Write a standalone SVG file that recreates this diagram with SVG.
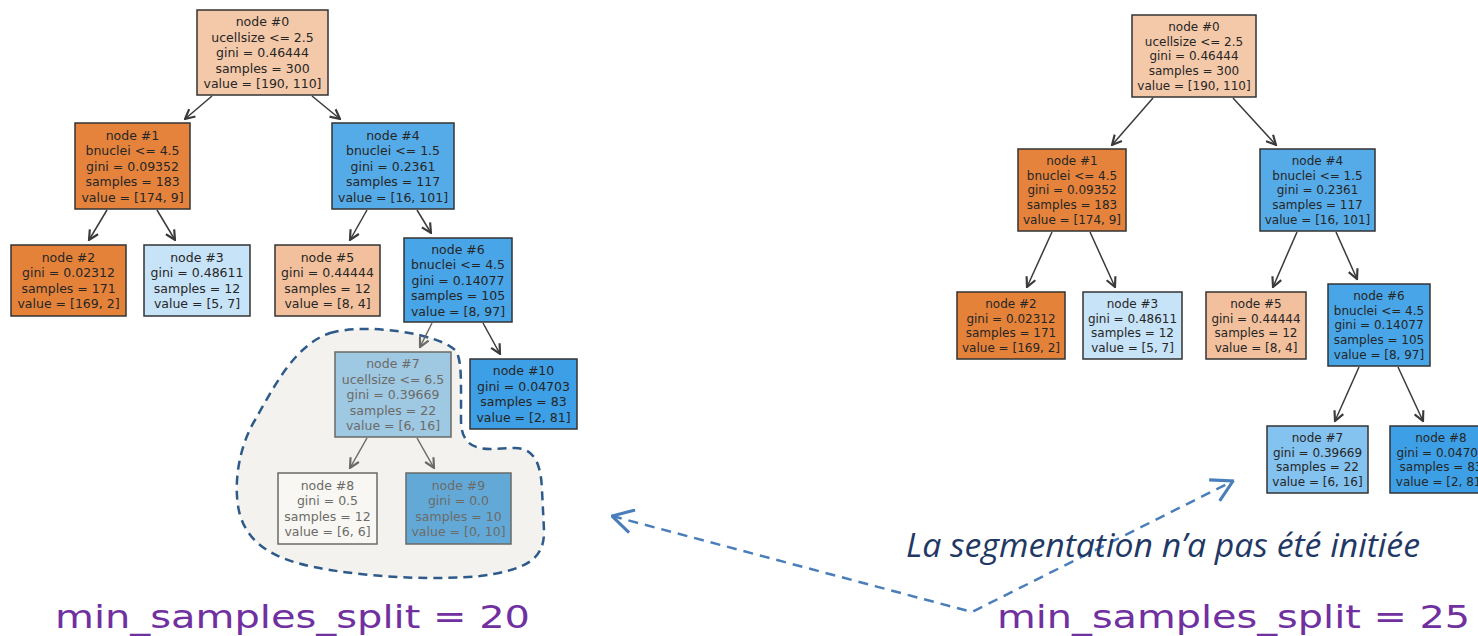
<svg xmlns="http://www.w3.org/2000/svg" width="1478" height="636" viewBox="0 0 1478 636">
<style>
.nb{stroke:#333;stroke-width:1.5}
.fb{stroke:#6a6a66;stroke-width:1.5}
.tl{font-family:"DejaVu Sans",sans-serif;font-size:12.5px;fill:#262626;text-anchor:middle}
.tr{font-family:"DejaVu Sans",sans-serif;font-size:12px;fill:#262626;text-anchor:middle}
.tf{font-family:"DejaVu Sans",sans-serif;font-size:12.5px;fill:#6b6b68;text-anchor:middle}
.e{stroke:#3a3a3a;stroke-width:1.5;fill:none;marker-end:url(#ah)}
.ef{stroke:#6a6a66;stroke-width:1.5;fill:none;marker-end:url(#ahf)}
.lab{font-family:"DejaVu Sans",sans-serif;font-size:32px;fill:#7030a0}
.note{font-family:"Open Sans",sans-serif;font-style:italic;font-size:33px;fill:#1f3864}
</style>
<defs>
<marker id="ah" markerUnits="userSpaceOnUse" markerWidth="12" markerHeight="12" refX="9" refY="5" orient="auto" viewBox="0 0 10 10">
<path d="M1,1 L9,5 L1,9" fill="none" stroke="#3a3a3a" stroke-width="1.8"/>
</marker>
<marker id="ahf" markerUnits="userSpaceOnUse" markerWidth="12" markerHeight="12" refX="9" refY="5" orient="auto" viewBox="0 0 10 10">
<path d="M1,1 L9,5 L1,9" fill="none" stroke="#6a6a66" stroke-width="1.8"/>
</marker>
<marker id="bh" markerUnits="userSpaceOnUse" markerWidth="26" markerHeight="26" refX="19" refY="10" orient="auto-start-reverse" viewBox="0 0 20 20">
<path d="M3,1 L19,10 L3,19" fill="none" stroke="#4a7ebb" stroke-width="2.4"/>
</marker>
</defs>
<rect width="1478" height="636" fill="#ffffff"/>

<g id="highlight">
<path d="M330,333 C370,322 440,335 455,350 C462,358 461,380 461,420 C461,440 470,449 490,449 L515,448 C535,448 541,465 542,490 L544,530 C545,560 525,570 480,576 C440,580 380,578 330,570 C280,562 250,548 240,515 C233,490 237,450 255,420 C275,385 295,345 330,333 Z" fill="#f3f2ee" stroke="#2e5a8a" stroke-width="2.5" stroke-dasharray="9,6"/>
</g>

<g id="connectors">
<line class="e" x1="212" y1="96" x2="185" y2="119"/>
<line class="e" x1="312" y1="96" x2="340" y2="119"/>
<line class="e" x1="107" y1="210" x2="89" y2="240"/>
<line class="e" x1="157" y1="210" x2="175" y2="240"/>
<line class="e" x1="367" y1="210" x2="350" y2="240"/>
<line class="e" x1="417" y1="210" x2="431" y2="233"/>
<line class="ef" x1="432" y1="323" x2="420" y2="347"/>
<line class="e" x1="483" y1="323" x2="500" y2="354"/>
<line class="ef" x1="367" y1="438" x2="350" y2="468"/>
<line class="ef" x1="417" y1="438" x2="434" y2="468"/>
<line class="e" x1="1153" y1="98" x2="1112" y2="145"/>
<line class="e" x1="1233" y1="98" x2="1276" y2="145"/>
<line class="e" x1="1052" y1="232" x2="1027" y2="287"/>
<line class="e" x1="1090" y1="232" x2="1115" y2="287"/>
<line class="e" x1="1297" y1="232" x2="1273" y2="287"/>
<line class="e" x1="1336" y1="232" x2="1357" y2="279"/>
<line class="e" x1="1359" y1="367" x2="1335" y2="421"/>
<line class="e" x1="1398" y1="367" x2="1423" y2="421"/>
<path d="M612,516 L972,612 L1233,481" fill="none" stroke="#4a7ebb" stroke-width="2.5" stroke-dasharray="10,7" marker-start="url(#bh)" marker-end="url(#bh)"/>
</g>

<!-- left tree -->
<g id="L-node0"><rect class="nb" x="197" y="10" width="131" height="85" fill="#f4c9a9"/>
<text class="tl"><tspan x="262.5" y="26">node #0</tspan><tspan x="262.5" y="41.5">ucellsize &lt;= 2.5</tspan><tspan x="262.5" y="57">gini = 0.46444</tspan><tspan x="262.5" y="72.5">samples = 300</tspan><tspan x="262.5" y="88">value = [190, 110]</tspan></text></g>
<g id="L-node1"><rect class="nb" x="75" y="123" width="115" height="86" fill="#e5833c"/>
<text class="tl"><tspan x="132.5" y="139.5">node #1</tspan><tspan x="132.5" y="155">bnuclei &lt;= 4.5</tspan><tspan x="132.5" y="170.5">gini = 0.09352</tspan><tspan x="132.5" y="186">samples = 183</tspan><tspan x="132.5" y="201.5">value = [174, 9]</tspan></text></g>
<g id="L-node4"><rect class="nb" x="332" y="123" width="122" height="86" fill="#55abe8"/>
<text class="tl"><tspan x="393" y="139.5">node #4</tspan><tspan x="393" y="155">bnuclei &lt;= 1.5</tspan><tspan x="393" y="170.5">gini = 0.2361</tspan><tspan x="393" y="186">samples = 117</tspan><tspan x="393" y="201.5">value = [16, 101]</tspan></text></g>
<g id="L-node2"><rect class="nb" x="11" y="245" width="115" height="71" fill="#e5823a"/>
<text class="tl"><tspan x="68.5" y="261.8">node #2</tspan><tspan x="68.5" y="277.3">gini = 0.02312</tspan><tspan x="68.5" y="292.8">samples = 171</tspan><tspan x="68.5" y="308.3">value = [169, 2]</tspan></text></g>
<g id="L-node3"><rect class="nb" x="144" y="245" width="106" height="71" fill="#c6e3f8"/>
<text class="tl"><tspan x="197" y="261.8">node #3</tspan><tspan x="197" y="277.3">gini = 0.48611</tspan><tspan x="197" y="292.8">samples = 12</tspan><tspan x="197" y="308.3">value = [5, 7]</tspan></text></g>
<g id="L-node5"><rect class="nb" x="275" y="245" width="105" height="71" fill="#f2c09c"/>
<text class="tl"><tspan x="327.5" y="261.8">node #5</tspan><tspan x="327.5" y="277.3">gini = 0.44444</tspan><tspan x="327.5" y="292.8">samples = 12</tspan><tspan x="327.5" y="308.3">value = [8, 4]</tspan></text></g>
<g id="L-node6"><rect class="nb" x="404" y="238" width="108" height="84" fill="#48a5e7"/>
<text class="tl"><tspan x="458" y="253.5">node #6</tspan><tspan x="458" y="269">bnuclei &lt;= 4.5</tspan><tspan x="458" y="284.5">gini = 0.14077</tspan><tspan x="458" y="300">samples = 105</tspan><tspan x="458" y="315.5">value = [8, 97]</tspan></text></g>
<g id="L-node7"><rect class="fb" x="335" y="352" width="116" height="85" fill="#9fc8e3"/>
<text class="tf"><tspan x="393" y="368">node #7</tspan><tspan x="393" y="383.5">ucellsize &lt;= 6.5</tspan><tspan x="393" y="399">gini = 0.39669</tspan><tspan x="393" y="414.5">samples = 22</tspan><tspan x="393" y="430">value = [6, 16]</tspan></text></g>
<g id="L-node10"><rect class="nb" x="470" y="359" width="107" height="70" fill="#3d9fe5"/>
<text class="tl"><tspan x="523.5" y="375.3">node #10</tspan><tspan x="523.5" y="390.8">gini = 0.04703</tspan><tspan x="523.5" y="406.3">samples = 83</tspan><tspan x="523.5" y="421.8">value = [2, 81]</tspan></text></g>
<g id="L-node8"><rect class="fb" x="278" y="473" width="99" height="71" fill="#f8f7f3"/>
<text class="tf"><tspan x="327.5" y="489.8">node #8</tspan><tspan x="327.5" y="505.3">gini = 0.5</tspan><tspan x="327.5" y="520.8">samples = 12</tspan><tspan x="327.5" y="536.3">value = [6, 6]</tspan></text></g>
<g id="L-node9"><rect class="fb" x="406" y="473" width="105" height="71" fill="#63a9d7"/>
<text class="tf"><tspan x="458.5" y="489.8">node #9</tspan><tspan x="458.5" y="505.3">gini = 0.0</tspan><tspan x="458.5" y="520.8">samples = 10</tspan><tspan x="458.5" y="536.3">value = [0, 10]</tspan></text></g>

<!-- right tree -->
<g id="R-node0"><rect class="nb" x="1132" y="15" width="124" height="82" fill="#f4c9a9"/>
<text class="tr"><tspan x="1194" y="30.9">node #0</tspan><tspan x="1194" y="45.6">ucellsize &lt;= 2.5</tspan><tspan x="1194" y="60.3">gini = 0.46444</tspan><tspan x="1194" y="75">samples = 300</tspan><tspan x="1194" y="89.7">value = [190, 110]</tspan></text></g>
<g id="R-node1"><rect class="nb" x="1018" y="149" width="108" height="82" fill="#e5833c"/>
<text class="tr"><tspan x="1072" y="164.9">node #1</tspan><tspan x="1072" y="179.6">bnuclei &lt;= 4.5</tspan><tspan x="1072" y="194.3">gini = 0.09352</tspan><tspan x="1072" y="209">samples = 183</tspan><tspan x="1072" y="223.7">value = [174, 9]</tspan></text></g>
<g id="R-node4"><rect class="nb" x="1260" y="149" width="115" height="82" fill="#55abe8"/>
<text class="tr"><tspan x="1317.5" y="164.9">node #4</tspan><tspan x="1317.5" y="179.6">bnuclei &lt;= 1.5</tspan><tspan x="1317.5" y="194.3">gini = 0.2361</tspan><tspan x="1317.5" y="209">samples = 117</tspan><tspan x="1317.5" y="223.7">value = [16, 101]</tspan></text></g>
<g id="R-node2"><rect class="nb" x="957" y="292" width="108" height="67" fill="#e5823a"/>
<text class="tr"><tspan x="1011" y="307.8">node #2</tspan><tspan x="1011" y="322.5">gini = 0.02312</tspan><tspan x="1011" y="337.2">samples = 171</tspan><tspan x="1011" y="351.9">value = [169, 2]</tspan></text></g>
<g id="R-node3"><rect class="nb" x="1083" y="292" width="99" height="67" fill="#c6e3f8"/>
<text class="tr"><tspan x="1132.5" y="307.8">node #3</tspan><tspan x="1132.5" y="322.5">gini = 0.48611</tspan><tspan x="1132.5" y="337.2">samples = 12</tspan><tspan x="1132.5" y="351.9">value = [5, 7]</tspan></text></g>
<g id="R-node5"><rect class="nb" x="1206" y="292" width="100" height="67" fill="#f2c09c"/>
<text class="tr"><tspan x="1256" y="307.8">node #5</tspan><tspan x="1256" y="322.5">gini = 0.44444</tspan><tspan x="1256" y="337.2">samples = 12</tspan><tspan x="1256" y="351.9">value = [8, 4]</tspan></text></g>
<g id="R-node6"><rect class="nb" x="1328" y="284" width="102" height="82" fill="#48a5e7"/>
<text class="tr"><tspan x="1379" y="299.9">node #6</tspan><tspan x="1379" y="314.6">bnuclei &lt;= 4.5</tspan><tspan x="1379" y="329.3">gini = 0.14077</tspan><tspan x="1379" y="344">samples = 105</tspan><tspan x="1379" y="358.7">value = [8, 97]</tspan></text></g>
<g id="R-node7"><rect class="nb" x="1267" y="426" width="101" height="67" fill="#84c2ef"/>
<text class="tr"><tspan x="1317.5" y="441.8">node #7</tspan><tspan x="1317.5" y="456.5">gini = 0.39669</tspan><tspan x="1317.5" y="471.2">samples = 22</tspan><tspan x="1317.5" y="485.9">value = [6, 16]</tspan></text></g>
<g id="R-node8"><rect class="nb" x="1390" y="426" width="102" height="67" fill="#3d9fe5"/>
<text class="tr"><tspan x="1441" y="441.8">node #8</tspan><tspan x="1441" y="456.5">gini = 0.04703</tspan><tspan x="1441" y="471.2">samples = 83</tspan><tspan x="1441" y="485.9">value = [2, 81]</tspan></text></g>

<g id="labels">
<text class="note" x="906" y="557" textLength="514" lengthAdjust="spacingAndGlyphs">La segmentation n’a pas été initiée</text>
<text class="lab" x="55" y="628" textLength="475" lengthAdjust="spacingAndGlyphs">min_samples_split = 20</text>
<text class="lab" x="997" y="628" textLength="473" lengthAdjust="spacingAndGlyphs">min_samples_split = 25</text>
</g>
</svg>
